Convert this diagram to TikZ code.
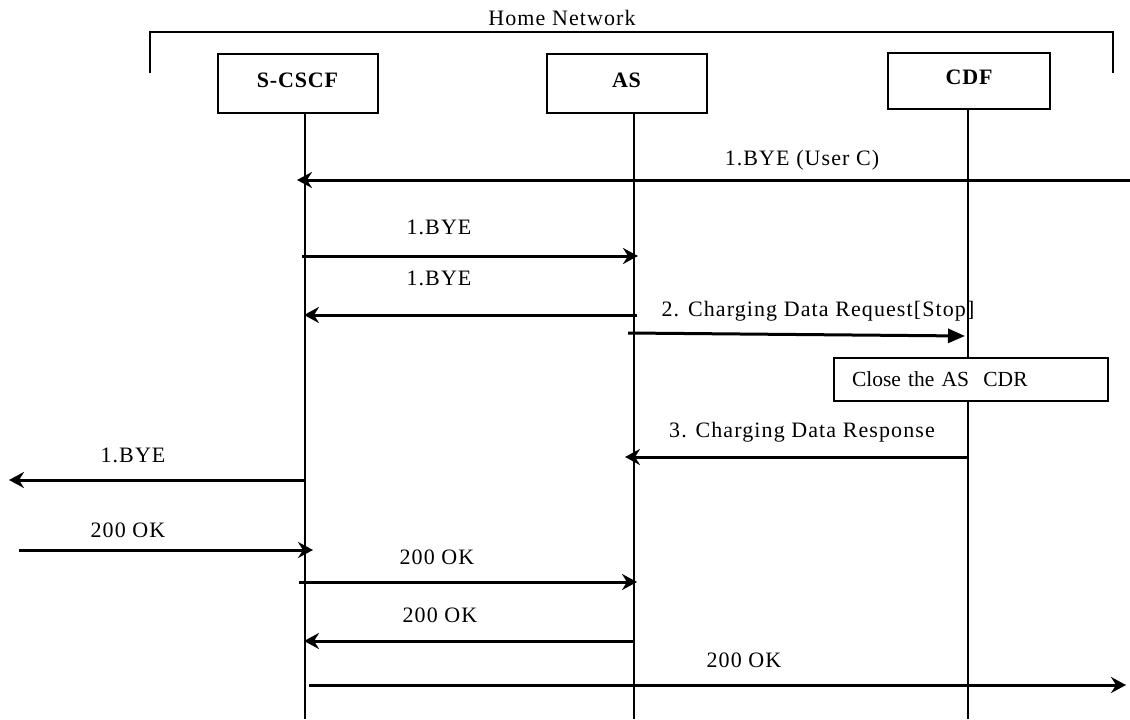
\documentclass[tikz,border=0pt]{standalone}
\usepackage{fontspec}
\setmainfont{Liberation Serif}
\newfontfamily\lsfont[LetterSpace=5]{Liberation Serif}
\newfontfamily\lsbfont[LetterSpace=4]{Liberation Serif Bold}
\usetikzlibrary{arrows.meta}
\begin{document}
\begin{tikzpicture}[x=1pt,y=-1pt,
  ent/.style={draw,line width=2pt,minimum width=160pt,minimum height=59pt,inner sep=0pt,
    font=\lsbfont\fontsize{22}{24}\selectfont,text height=15pt,text depth=8pt},
  life/.style={line width=2pt},
  msg/.style={line width=3pt,-{Stealth[length=15pt,width=16pt,inset=5pt]}},
  msgtri/.style={line width=3pt,-{Triangle[length=17pt,width=14pt]}},
  lbl/.style={font=\lsfont\fontsize{22}{24}\selectfont,inner sep=0pt},
  actbox/.style={draw,fill=white,line width=2pt,minimum width=274pt,minimum height=43pt,inner xsep=18pt,
    text width=238pt,align=left,font=\fontsize{21.5}{24}\selectfont}]
\useasboundingbox (0,0) rectangle (1130,720);
% Home network bracket
\coordinate (brL) at (150,73);
\coordinate (brLt) at (150,32);
\coordinate (brRt) at (1113,32);
\coordinate (brR) at (1113,73);
\draw[line width=2pt] (brL) -- (brLt) -- (brRt) -- (brR);
\node[lbl] (home) at (562,18) {Home Network};
% entities
\node[ent] (scscf) at (297.5,83.5) {S-CSCF};
\node[ent] (as) at (626.5,83.5) {AS};
\node[ent,minimum width=162pt,minimum height=56pt] (cdf) at (969,81) {CDF};
% lifelines
\coordinate (sT) at (305,113); \coordinate (sB) at (305,719);
\coordinate (aT) at (634,113); \coordinate (aB) at (634,719);
\coordinate (cT) at (968,109); \coordinate (cB) at (968,719);
\draw[life] (sT) -- (sB);
\draw[life] (aT) -- (aB);
\draw[life] (cT) -- (cB);
% message end points
\coordinate (m1a) at (1130,180); \coordinate (m1b) at (297,180);
\coordinate (m2a) at (302,256);  \coordinate (m2b) at (638,256);
\coordinate (m3a) at (637,315);  \coordinate (m3b) at (304,315);
\coordinate (m4a) at (628,333);  \coordinate (m4b) at (965,336);
\coordinate (m6a) at (968,457);  \coordinate (m6b) at (625,457);
\coordinate (m7a) at (305,480);  \coordinate (m7b) at (9,480);
\coordinate (m8a) at (19,550);   \coordinate (m8b) at (313,550);
\coordinate (m9a) at (299,582);  \coordinate (m9b) at (637,582);
\coordinate (m10a) at (635,641); \coordinate (m10b) at (304,641);
\coordinate (m11a) at (309,685); \coordinate (m11b) at (1126,685);
% messages
\draw[msg] (m1a) -- (m1b);
\node[lbl] (l1) at (802,160) {1.BYE (User C)};
\draw[msg] (m2a) -- (m2b);
\node[lbl] (l2) at (439,227) {1.BYE};
\draw[msg] (m3a) -- (m3b);
\node[lbl] (l3) at (439,278) {1.BYE};
\draw[msgtri] (m4a) -- (m4b);
\node[lbl] (l4) at (818,311) {2. Charging Data Request[Stop]};
\node[actbox] (close) at (971,379.5) {Close the AS\ \ CDR};
\draw[msg] (m6a) -- (m6b);
\node[lbl] (l6) at (802,432) {3. Charging Data Response};
\draw[msg] (m7a) -- (m7b);
\node[lbl] (l7) at (133,455) {1.BYE};
\draw[msg] (m8a) -- (m8b);
\node[lbl] (l8) at (128,530) {200 OK};
\draw[msg] (m9a) -- (m9b);
\node[lbl] (l9) at (437,557) {200 OK};
\draw[msg] (m10a) -- (m10b);
\node[lbl] (l10) at (440,615) {200 OK};
\draw[msg] (m11a) -- (m11b);
\node[lbl] (l11) at (744,660) {200 OK};
\end{tikzpicture}
\end{document}
